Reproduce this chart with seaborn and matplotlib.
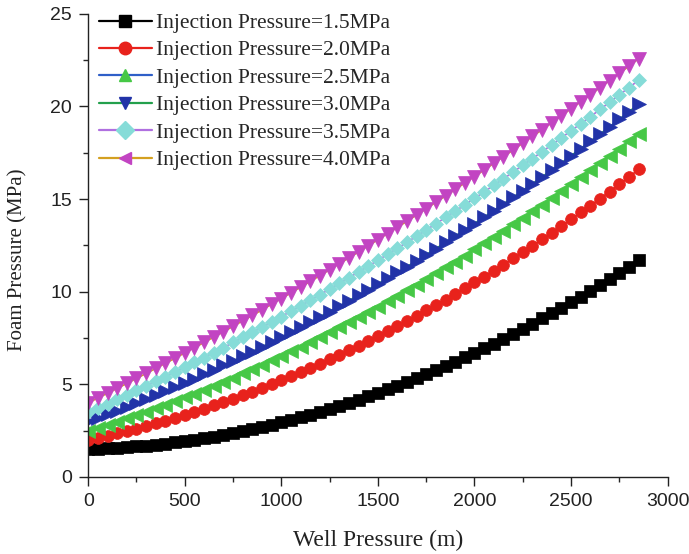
import matplotlib
matplotlib.use("Agg")
import matplotlib.pyplot as plt
from matplotlib.lines import Line2D
from matplotlib.ticker import MultipleLocator
import seaborn as sns
import pandas as pd

# Well depth (m)
depth = [0, 50, 100, 150, 200, 250, 300, 350, 400, 450, 500, 550, 600, 650, 700,
         750, 800, 850, 900, 950, 1000, 1050, 1100, 1150, 1200, 1250, 1300, 1350,
         1400, 1450, 1500, 1550, 1600, 1650, 1700, 1750, 1800, 1850, 1900, 1950,
         2000, 2050, 2100, 2150, 2200, 2250, 2300, 2350, 2400, 2450, 2500, 2550,
         2600, 2650, 2700, 2750, 2800, 2850]

p15 = [1.50, 1.52, 1.54, 1.57, 1.61, 1.65, 1.69, 1.75, 1.80, 1.87, 1.94, 2.01,
       2.09, 2.18, 2.27, 2.37, 2.48, 2.59, 2.70, 2.82, 2.95, 3.08, 3.22, 3.37,
       3.52, 3.67, 3.83, 4.00, 4.17, 4.35, 4.54, 4.73, 4.92, 5.13, 5.33, 5.55,
       5.77, 5.99, 6.22, 6.46, 6.70, 6.95, 7.20, 7.46, 7.73, 8.00, 8.27, 8.56,
       8.84, 9.14, 9.44, 9.74, 10.05, 10.37, 10.69, 11.02, 11.36, 11.70]

p20 = [2.00, 2.11, 2.23, 2.35, 2.48, 2.61, 2.75, 2.90, 3.04, 3.20, 3.36, 3.52,
       3.69, 3.86, 4.04, 4.23, 4.42, 4.61, 4.81, 5.02, 5.23, 5.44, 5.66, 5.89,
       6.12, 6.35, 6.59, 6.84, 7.09, 7.35, 7.61, 7.87, 8.14, 8.42, 8.70, 8.99,
       9.28, 9.58, 9.88, 10.19, 10.50, 10.82, 11.14, 11.47, 11.80, 12.14, 12.48,
       12.83, 13.18, 13.54, 13.91, 14.28, 14.65, 15.03, 15.41, 15.80, 16.20, 16.60]

p25 = [2.50, 2.66, 2.83, 2.99, 3.17, 3.35, 3.53, 3.71, 3.91, 4.10, 4.30, 4.50,
       4.71, 4.92, 5.14, 5.36, 5.59, 5.82, 6.05, 6.29, 6.53, 6.78, 7.03, 7.28,
       7.54, 7.81, 8.07, 8.35, 8.62, 8.90, 9.19, 9.48, 9.77, 10.07, 10.37, 10.68,
       10.99, 11.31, 11.63, 11.95, 12.28, 12.61, 12.95, 13.29, 13.64, 13.99,
       14.34, 14.70, 15.06, 15.43, 15.80, 16.18, 16.56, 16.94, 17.33, 17.72,
       18.12, 18.52]

p30 = [3.00, 3.19, 3.38, 3.58, 3.78, 3.99, 4.20, 4.41, 4.63, 4.85, 5.08, 5.31,
       5.54, 5.78, 6.02, 6.26, 6.51, 6.77, 7.02, 7.29, 7.55, 7.82, 8.09, 8.37,
       8.65, 8.93, 9.22, 9.52, 9.81, 10.11, 10.42, 10.73, 11.04, 11.35, 11.68,
       12.00, 12.33, 12.66, 13.00, 13.34, 13.68, 14.03, 14.38, 14.74, 15.10,
       15.46, 15.83, 16.20, 16.57, 16.95, 17.34, 17.73, 18.12, 18.51, 18.91,
       19.31, 19.72, 20.13]

p35 = [3.50, 3.73, 3.96, 4.20, 4.43, 4.68, 4.92, 5.17, 5.42, 5.67, 5.93, 6.19,
       6.45, 6.72, 6.98, 7.26, 7.53, 7.81, 8.09, 8.37, 8.66, 8.95, 9.24, 9.54,
       9.84, 10.14, 10.45, 10.75, 11.07, 11.38, 11.70, 12.02, 12.34, 12.67,
       13.00, 13.33, 13.67, 14.01, 14.35, 14.69, 15.04, 15.39, 15.75, 16.10,
       16.46, 16.83, 17.19, 17.56, 17.93, 18.31, 18.69, 19.07, 19.45, 19.84,
       20.23, 20.63, 21.02, 21.42]

p40 = [4.00, 4.26, 4.52, 4.78, 5.05, 5.32, 5.59, 5.86, 6.14, 6.41, 6.70, 6.98,
       7.26, 7.55, 7.84, 8.13, 8.43, 8.72, 9.02, 9.33, 9.63, 9.94, 10.25, 10.56,
       10.87, 11.19, 11.51, 11.83, 12.15, 12.48, 12.81, 13.14, 13.47, 13.80,
       14.14, 14.48, 14.83, 15.17, 15.52, 15.87, 16.22, 16.57, 16.93, 17.29,
       17.65, 18.02, 18.38, 18.75, 19.12, 19.50, 19.88, 20.25, 20.63, 21.02,
       21.40, 21.79, 22.18, 22.58]

labels = ["Injection Pressure=1.5MPa", "Injection Pressure=2.0MPa",
          "Injection Pressure=2.5MPa", "Injection Pressure=3.0MPa",
          "Injection Pressure=3.5MPa", "Injection Pressure=4.0MPa"]
series = [p15, p20, p25, p30, p35, p40]

line_colors = ["#000000", "#e8221c", "#2f5fc8", "#23a04c", "#b070e0", "#d4a020"]
marker_colors = ["#000000", "#e8221c", "#46c846", "#2233a8", "#86dcd8", "#c244c2"]
plot_markers = ["s", "o", "<", ">", "D", "v"]
legend_markers = ["s", "o", "^", "v", "D", "<"]
msizes = [8.5, 8.5, 10, 10, 7.5, 10]

sns.set_style("ticks")
plt.rcParams["font.family"] = ["Liberation Sans", "DejaVu Sans"]

fig = plt.figure(figsize=(6.89, 5.54), dpi=100)
ax = fig.add_axes([0.128, 0.139, 0.841, 0.836])

for ys, lab, lc, mc, mk, ms in zip(series, labels, line_colors, marker_colors,
                                   plot_markers, msizes):
    df = pd.DataFrame({"depth": depth, "pressure": ys})
    sns.lineplot(data=df, x="depth", y="pressure", ax=ax, color=lc,
                 marker=mk, markersize=ms, markerfacecolor=mc,
                 markeredgecolor=mc, markeredgewidth=0.5, linewidth=1.2,
                 legend=False)

ax.set_xlim(0, 3000)
ax.set_ylim(0, 25)
ax.xaxis.set_major_locator(MultipleLocator(500))
ax.xaxis.set_minor_locator(MultipleLocator(250))
ax.yaxis.set_major_locator(MultipleLocator(5))
ax.yaxis.set_minor_locator(MultipleLocator(2.5))
ax.tick_params(axis="both", which="major", direction="out", length=6.5,
               width=1, labelsize=14, colors="#222222", pad=5)
ax.tick_params(axis="both", which="minor", direction="out", length=3.5, width=1)
for s in ["top", "right"]:
    ax.spines[s].set_visible(False)
for s in ["left", "bottom"]:
    ax.spines[s].set_linewidth(1.0)
    ax.spines[s].set_color("#222222")

serif = ["Liberation Serif", "DejaVu Serif"]
ax.set_xlabel("Well Pressure (m)", fontsize=17, family=serif, labelpad=14,
              color="#222222")
ax.set_ylabel("Foam Pressure (MPa)", fontsize=15, family=serif,
              color="#222222")
ax.yaxis.set_label_coords(-0.105, 0.47)

handles = [Line2D([0], [0], color=lc, marker=mk, markersize=9,
                  markerfacecolor=mc, markeredgecolor=mc, linewidth=1.6)
           for lc, mc, mk in zip(line_colors, marker_colors, legend_markers)]
ax.legend(handles=handles, labels=labels, loc="upper left",
          bbox_to_anchor=(0.0, 1.025), frameon=False,
          prop={"family": serif, "size": 15.5}, handlelength=2.45,
          handletextpad=0.2, labelspacing=0.34, borderaxespad=0.1,
          numpoints=1)

fig.savefig("out.png", dpi=100)
